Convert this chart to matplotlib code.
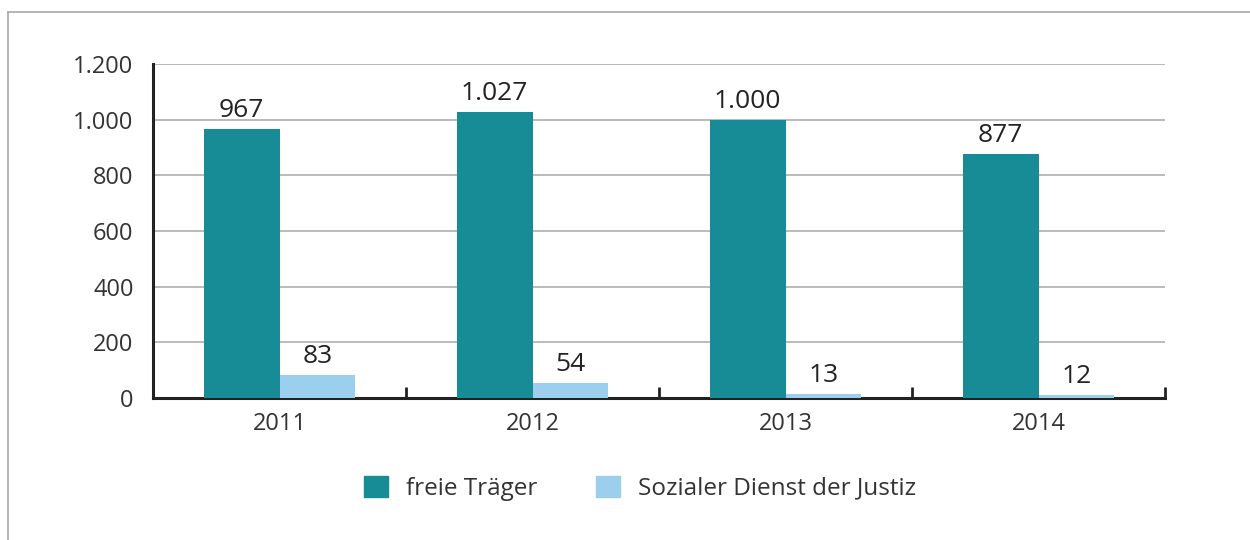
import numpy as np
import matplotlib.pyplot as plt
from matplotlib.patches import Patch
from matplotlib.lines import Line2D

jahre = ["2011", "2012", "2013", "2014"]
freie_traeger = [967, 1027, 1000, 877]
sozialer_dienst = [83, 54, 13, 12]
serien = ["freie Träger", "Sozialer Dienst der Justiz"]
y_ticks = [0, 200, 400, 600, 800, 1000, 1200]

col_teal = "#178b96"
col_hell = "#9ccfee"

plt.rcParams['font.family'] = ['Open Sans', 'DejaVu Sans']


def punkt(v):
    # Tausendertrennzeichen als Punkt
    return f"{v:,}".replace(",", ".")


fig = plt.figure(figsize=(12.5, 5.4), dpi=100)
ax = fig.add_axes([0.1224, 0.263, 0.8096, 0.6185])

x = np.arange(len(jahre))
w = 0.30
ax.bar(x - w / 2, freie_traeger, width=w, color=col_teal, zorder=3)
ax.bar(x + w / 2, sozialer_dienst, width=w, color=col_hell, zorder=3)

for xi, v in zip(x, freie_traeger):
    ax.text(xi - w / 2, v + 22, punkt(v), ha='center', va='bottom',
            fontsize=19, color='#222222')
for xi, v in zip(x, sozialer_dienst):
    ax.text(xi + w / 2, v + 22, punkt(v), ha='center', va='bottom',
            fontsize=19, color='#222222')

ax.set_xlim(-0.5, len(jahre) - 0.5)
ax.set_ylim(0, 1200)
ax.set_yticks(y_ticks)
ax.set_yticklabels([punkt(v) for v in y_ticks], fontsize=17, color='#333333')
ax.grid(axis='y', color='#b4b4b4', linewidth=1.3, zorder=0)
ax.tick_params(axis='y', length=0, pad=14)

# Kategorie-Trennstriche an den Grenzen, Beschriftung mittig
ax.set_xticks(np.arange(len(jahre) + 1) - 0.5)
ax.set_xticklabels([])
ax.set_xticks(x, minor=True)
ax.set_xticklabels(jahre, minor=True, fontsize=17, color='#333333')
ax.tick_params(axis='x', which='major', direction='in', length=8, width=2, color='#222222')
ax.tick_params(axis='x', which='minor', length=0, pad=10)

for s in ['top', 'right']:
    ax.spines[s].set_visible(False)
for s in ['left', 'bottom']:
    ax.spines[s].set_color('#222222')
    ax.spines[s].set_linewidth(2.2)

handles = [Patch(color=col_teal), Patch(color=col_hell)]
fig.legend(handles, serien, loc='center', bbox_to_anchor=(0.512, 0.096), ncol=2,
           frameon=False, fontsize=17.5, handlelength=1.0, handleheight=1.0,
           columnspacing=2.4, handletextpad=0.75, labelcolor='#333333')

# Rahmenlinien oben und links
fig.add_artist(Line2D([0.0064, 1.0], [1 - 12 / 540, 1 - 12 / 540],
                      transform=fig.transFigure, color='#a8a8a8', linewidth=1.2))
fig.add_artist(Line2D([0.0064, 0.0064], [0.0, 1 - 12 / 540],
                      transform=fig.transFigure, color='#a8a8a8', linewidth=1.2))

fig.savefig("out.png", dpi=100)
